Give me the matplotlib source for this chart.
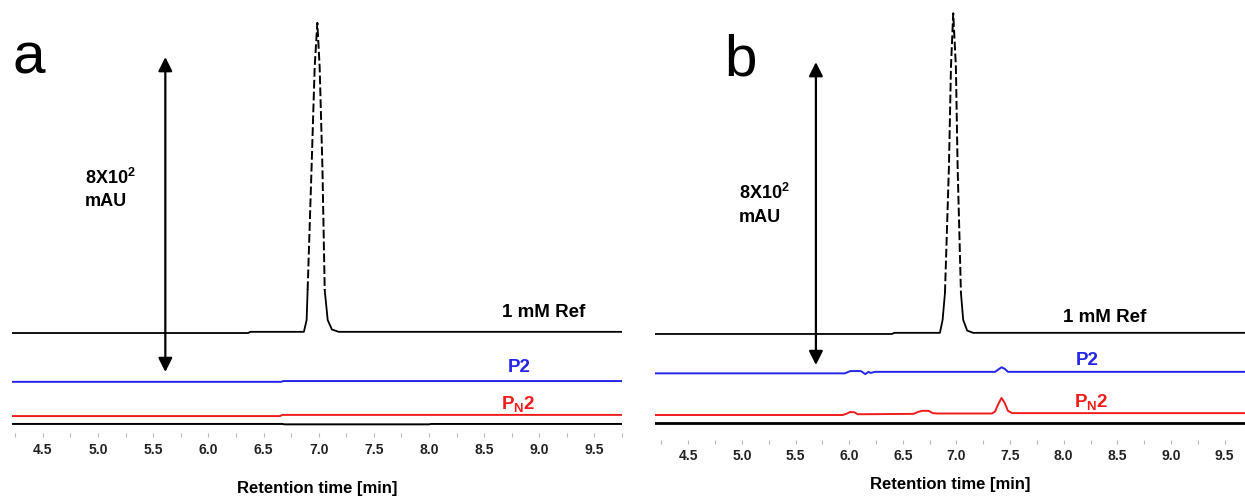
"""HPLC chromatograms, panels a and b: 1 mM reference vs P2 and PN2.

Traces are stacked with a fixed offset; the tall reference peak is drawn
dashed above the break, as in the original figure.
"""

import numpy as np
import matplotlib.pyplot as plt
from matplotlib.ticker import MultipleLocator

plt.rcParams['font.family'] = ['Liberation Sans', 'DejaVu Sans']
plt.rcParams['mathtext.fontset'] = 'custom'
plt.rcParams['mathtext.rm'] = 'Liberation Sans:bold'
plt.rcParams['mathtext.bf'] = 'Liberation Sans:bold'

# ---- data: retention time [min] / stacked absorbance [mAU] ------------------

major_ticks = [4.5, 5.0, 5.5, 6.0, 6.5, 7.0, 7.5, 8.0, 8.5, 9.0, 9.5]
tick_labels = ["4.5", "5.0", "5.5", "6.0", "6.5", "7.0", "7.5", "8.0", "8.5", "9.0", "9.5"]

# panel a
a_ref_t = [4.22, 6.36, 6.38, 6.866, 6.891, 6.90, 6.936, 6.964, 6.988,
           7.009, 7.034, 7.055, 7.082, 7.12, 7.182, 9.75]
a_ref_y = [231, 231, 234, 234, 264, 340, 653, 907, 1019,
           907, 653, 340, 264, 240, 234, 234]
a_p2_t = [4.22, 6.66, 6.68, 9.75]
a_p2_y = [107, 107, 109, 109]
a_pn2_t = [4.22, 6.65, 6.67, 9.75]
a_pn2_y = [20, 20, 23, 23]
a_blank_t = [4.22, 6.67, 6.69, 8.0, 8.02, 9.75]
a_blank_y = [0, 0, -1, -1, 0, 0]

# panel b
b_ref_t = [4.19, 6.40, 6.42, 6.846, 6.871, 6.893, 6.930, 6.949, 6.970,
           6.995, 7.011, 7.042, 7.063, 7.10, 7.156, 9.69]
b_ref_y = [235, 235, 238, 238, 272, 343, 676, 940, 1082,
           940, 676, 343, 272, 244, 238, 238]
b_p2_t = [4.19, 5.96, 6.01, 6.11, 6.15, 6.18, 6.20, 6.24, 7.36,
          7.40, 7.42, 7.45, 7.48, 9.69]
b_p2_y = [131, 131, 137, 137, 129, 135, 132, 135, 135,
          143, 147, 143, 135, 135]
b_pn2_t = [4.19, 5.94, 5.98, 6.01, 6.05, 6.08, 6.60, 6.64, 6.68, 6.74,
           6.78, 6.82, 7.33, 7.36, 7.39, 7.42, 7.45, 7.48, 7.52, 9.69]
b_pn2_y = [21, 21, 25, 29, 28, 23, 24, 29, 32, 32,
           26, 25, 25, 30, 50, 66, 53, 32, 26, 26]
b_blank_t = [4.19, 9.69]
b_blank_y = [0, 0]

BLUE = "#2424e8"
RED = "#f01c1c"


def _split_dashed(y, threshold):
    y = np.asarray(y, dtype=float)
    solid = np.where(y <= threshold, y, np.nan)
    dashed = np.where(y >= threshold, y, np.nan)
    return solid, dashed


def draw_panel(ax, ref, p2, pn2, blank, dash_from, xlim, ylim, blank_lw,
               arrow_x, arrow_y, scale_xy, labels):
    ref_t, ref_y = ref
    solid, dashed = _split_dashed(ref_y, dash_from)
    ax.plot(ref_t, solid, color="black", lw=1.3, solid_joinstyle="round")
    ax.plot(ref_t, dashed, color="black", lw=1.4, linestyle=(0, (4.5, 1.6)))
    ax.plot(*p2, color=BLUE, lw=1.4)
    ax.plot(*pn2, color=RED, lw=1.4)
    ax.plot(*blank, color="black", lw=blank_lw)

    ax.annotate("", xy=(arrow_x, arrow_y[1]), xytext=(arrow_x, arrow_y[0]),
                arrowprops=dict(arrowstyle="<|-|>,head_length=0.6,head_width=0.3",
                                color="black", lw=1.6, mutation_scale=14,
                                shrinkA=0, shrinkB=0))
    ax.text(scale_xy[0], scale_xy[1], "8X10$^{2}$\nmAU", fontsize=13,
            fontweight="bold", ha="left", va="center", linespacing=1.45)

    (rx, ry), (px, py), (nx, ny) = labels
    ax.text(rx, ry, "1 mM Ref", fontsize=13.5, fontweight="bold", ha="center", va="baseline")
    ax.text(px, py, "P2", fontsize=13.5, fontweight="bold", color=BLUE, ha="center", va="baseline")
    ax.text(nx, ny, r"P$_\mathbf{N}$2", fontsize=13.5, fontweight="bold", color=RED,
            ha="center", va="baseline")

    ax.set_xlim(*xlim)
    ax.set_ylim(*ylim)
    for side in ("top", "right", "left", "bottom"):
        ax.spines[side].set_visible(False)
    ax.set_yticks([])
    ax.set_xticks(major_ticks)
    ax.set_xticklabels(tick_labels, fontsize=10, fontweight="bold", color="#222222")
    ax.xaxis.set_minor_locator(MultipleLocator(0.25))
    ax.tick_params(axis="x", which="both", length=3, width=0.8, color="#b8b8b8")


fig = plt.figure(figsize=(12.45, 4.97), dpi=100)
W, H = 1245, 497

ax_a = fig.add_axes([12 / W, 1 - 433 / H, (622 - 12) / W, 433 / H])
draw_panel(ax_a, (a_ref_t, a_ref_y), (a_p2_t, a_p2_y), (a_pn2_t, a_pn2_y),
           (a_blank_t, a_blank_y), dash_from=340, xlim=(4.22, 9.75),
           ylim=(-23, 1077), blank_lw=1.4, arrow_x=5.61, arrow_y=(132, 932),
           scale_xy=(4.88, 597),
           labels=((9.04, 272), (8.82, 132), (8.81, 36)))
ax_a.tick_params(axis="x", pad=4.3)
ax_a.set_xlabel("Retention time [min]", fontsize=12, fontweight="bold", labelpad=17)

ax_b = fig.add_axes([655 / W, 1 - 440 / H, (W - 655) / W, 440 / H])
draw_panel(ax_b, (b_ref_t, b_ref_y), (b_p2_t, b_p2_y), (b_pn2_t, b_pn2_y),
           (b_blank_t, b_blank_y), dash_from=343, xlim=(4.19, 9.69),
           ylim=(-45, 1117), blank_lw=2.0, arrow_x=5.69, arrow_y=(153, 953),
           scale_xy=(4.97, 577),
           labels=((8.38, 267), (8.22, 153), (8.26, 40)))
ax_b.tick_params(axis="x", pad=3.6)
ax_b.set_xlabel("Retention time [min]", fontsize=12, fontweight="bold", labelpad=10)

fig.text(12 / W, 1 - 74 / H, "a", fontsize=42, ha="left", va="baseline")
fig.text(724 / W, 1 - 76 / H, "b", fontsize=42, ha="left", va="baseline")

fig.savefig("out.png", dpi=100)
plt.close(fig)
